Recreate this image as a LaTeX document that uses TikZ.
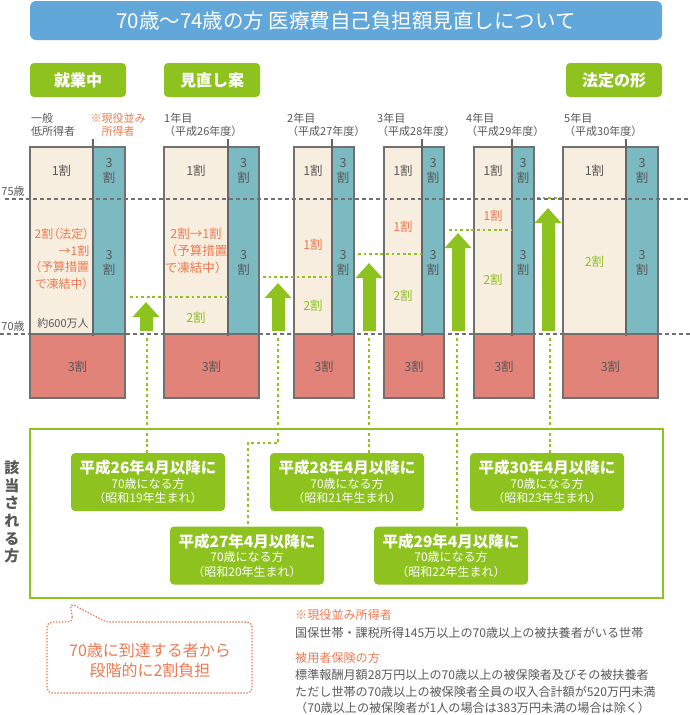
\documentclass[tikz,border=0pt]{standalone}
\usepackage{fontspec}
\setmainfont{Noto Sans CJK JP}
\usetikzlibrary{arrows.meta}

\definecolor{barblue}{HTML}{62A7D9}
\definecolor{leafgreen}{HTML}{8DC21F}
\definecolor{beige}{HTML}{F7EEDF}
\definecolor{colteal}{HTML}{7BBAC0}
\definecolor{salmon}{HTML}{E2837A}
\definecolor{edgegray}{HTML}{707070}
\definecolor{textgray}{HTML}{595757}
\definecolor{orangetxt}{HTML}{EC7A52}

\tikzset{
  titlebar/.style={fill=barblue, rounded corners=6pt, text=white, minimum width=632pt,
    minimum height=39pt, font=\fontsize{20.5}{24}\selectfont},
  tag/.style={fill=leafgreen, rounded corners=4pt, text=white, minimum width=96pt,
    minimum height=34pt, font=\fontsize{16}{18}\selectfont\bfseries},
  head/.style={anchor=west, align=left, text=textgray, font=\fontsize{11}{13}\selectfont},
  cell/.style={draw=edgegray, line width=1.2pt},
  divider/.style={draw=edgegray!90!black, line width=2pt},
  rate/.style={text=textgray, font=\fontsize{12.5}{15}\selectfont},
  small/.style={text=textgray, font=\fontsize{11}{13}\selectfont},
  ageline/.style={draw=edgegray, line width=1.8pt, dash pattern=on 4pt off 3pt},
  link/.style={draw=leafgreen, line width=2.8pt, dash pattern=on 2.8pt off 2.8pt},
  up/.style={draw=leafgreen, line width=13pt, -{Triangle[width=26pt,length=15pt]}},
  agebox/.style={fill=leafgreen, rounded corners=4pt, text=white, minimum width=154pt,
    minimum height=58pt, align=center, font=\fontsize{12}{14.5}\selectfont},
  bubble/.style={draw=orangetxt, fill=white, line width=1.2pt, dash pattern=on 1.5pt off 1.5pt,
    rounded corners=5pt},
  note/.style={anchor=west, align=left, text=textgray, font=\fontsize{12.1}{16.5}\selectfont},
}

\begin{document}
\begin{tikzpicture}[x=1pt, y=-1pt, every node/.style={inner sep=0pt}]
\useasboundingbox (0,0) rectangle (690,715);

% title and stage tags
\node[titlebar] (title) at (346,20.5) {70歳～74歳の方 医療費自己負担額見直しについて};
\node[tag] (now) at (78,80) {就業中};
\node[tag] (plan) at (212,80) {見直し案};
\node[tag] (law) at (614,80) {法定の形};

% column heads
\node[head] (h0) at (31,124.5) {一般\\低所得者};
\node[head, anchor=center, align=center, text=orangetxt] (h0b) at (118,124.5) {※現役並み\\所得者};
\node[head] (h1) at (164,124.5) {1年目\\（平成26年度）};
\node[head] (h2) at (287,124.5) {2年目\\（平成27年度）};
\node[head] (h3) at (377,124.5) {3年目\\（平成28年度）};
\node[head] (h4) at (466,124.5) {4年目\\（平成29年度）};
\node[head] (h5) at (564,124.5) {5年目\\（平成30年度）};

% columns: beige / teal / red
\foreach \a/\b/\c [count=\i] in {30/93/125, 164/228/259, 294/332/354,
                                 384/422/444, 474/512/534, 563/626/658}{
  \draw[cell, fill=beige] (\a,147) rectangle (\b,334);
  \draw[cell, fill=colteal] (\b,147) rectangle (\c,334);
  \draw[cell, fill=salmon] (\a,334) rectangle (\c,398);
  \draw[divider] (\b,139) -- (\b,336);
  \node[rate] (one\i) at ({(\a+\b)/2},171) {1割};
  \node[rate, align=center] (tA\i) at ({(\b+\c)/2},170.5) {3\\割};
  \node[rate, align=center] (tB\i) at ({(\b+\c)/2},262.5) {3\\割};
  \node[rate] (red\i) at ({(\a+\c)/2},367) {3割};
}

% shares inside the beige part
\node[rate, align=center, text=orangetxt, font=\fontsize{12}{16.7}\selectfont\addfontfeature{RawFeature=+palt}] (frozen1) at (62,259)
  {2割（法定）\\\hspace*{2em}→1割\\（予算措置\\で凍結中）};
\node[small] (pop) at (63,323) {約600万人};
\node[rate, align=center, text=orangetxt, font=\fontsize{12.5}{17}\selectfont] (frozen2) at (196,251)
  {2割→1割\\（予算措置\\で凍結中）};
\node[rate, text=leafgreen] (two2) at (196,318) {2割};
\node[rate, text=orangetxt] (half3) at (313,245) {1割};
\node[rate, text=leafgreen] (two3) at (313,306) {2割};
\node[rate, text=orangetxt] (half4) at (403,227) {1割};
\node[rate, text=leafgreen] (two4) at (403,296) {2割};
\node[rate, text=orangetxt] (half5) at (493,216) {1割};
\node[rate, text=leafgreen] (two5) at (493,280) {2割};
\node[rate, text=leafgreen] (two6) at (594.5,262) {2割};

% levels reached each year
\draw[link] (130,297) -- (228,297);
\draw[link] (263,277) -- (332,277);
\draw[link] (358,254) -- (422,254);
\draw[link] (449,230) -- (512,230);
\draw[link] (537,198) -- (563,198);
\draw[up] (146,331) -- (146,302);
\draw[up] (278,331) -- (278,283);
\draw[up] (369,331) -- (369,263);
\draw[up] (458,331) -- (458,233);
\draw[up] (548,331) -- (548,208);

% age lines
\draw[ageline] (5,199) -- (690,199);
\draw[ageline] (0,334) -- (690,334);
\node[small] (a75) at (13,191.5) {75歳};
\node[small] (a70) at (13,326) {70歳};

% who is concerned
\draw[draw=leafgreen, line width=1.2pt] (30,429) rectangle (663,598);
\node[align=center, text=textgray, font=\fontsize{15}{17.7}\selectfont\bfseries] (who) at (12,512)
  {該\\当\\さ\\れ\\る\\方};

\node[agebox] (age1) at (148,482) {{\fontsize{15.5}{17}\selectfont\bfseries 平成26年4月以降に}\\70歳になる方\\（昭和19年生まれ）};
\node[agebox] (age2) at (247,555.5) {{\fontsize{15.5}{17}\selectfont\bfseries 平成27年4月以降に}\\70歳になる方\\（昭和20年生まれ）};
\node[agebox] (age3) at (347,482) {{\fontsize{15.5}{17}\selectfont\bfseries 平成28年4月以降に}\\70歳になる方\\（昭和21年生まれ）};
\node[agebox] (age4) at (451,555.5) {{\fontsize{15.5}{17}\selectfont\bfseries 平成29年4月以降に}\\70歳になる方\\（昭和22年生まれ）};
\node[agebox] (age5) at (547,482) {{\fontsize{15.5}{17}\selectfont\bfseries 平成30年4月以降に}\\70歳になる方\\（昭和23年生まれ）};

\coordinate (src1) at (147,338);
\coordinate (src2) at (278,338);
\coordinate (src3) at (369,338);
\coordinate (src4) at (457,338);
\coordinate (src5) at (550,338);
\coordinate (bend2) at (248,443);
\draw[link] (src1) -- (src1 |- age1.north);
\draw[link] (src2) |- (bend2) -- (bend2 |- age2.north);
\draw[link] (src3) -- (src3 |- age3.north);
\draw[link] (src4) -- (src4 |- age4.north);
\draw[link] (src5) -- (src5 |- age5.north);

% callout
\draw[bubble] (73,622) -- (70,603) -- (106,622) -- (252,622) -- (252,693) -- (47,693) -- (47,622) -- cycle;
\node[align=center, text=orangetxt, font=\fontsize{16}{20}\selectfont] (goal) at (150,660)
  {70歳に到達する者から\\段階的に2割負担};

% notes
\node[note, text=orangetxt] (n1) at (295,615) {※現役並み所得者};
\node[note] (n1t) at (295,633) {国保世帯・課税所得145万以上の70歳以上の被扶養者がいる世帯};
\node[note, text=orangetxt] (n2) at (295,658) {被用者保険の方};
\node[note] (n2t) at (295,691.5) {標準報酬月額28万円以上の70歳以上の被保険者及びその被扶養者\\
  ただし世帯の70歳以上の被保険者全員の収入合計額が520万円未満\\
  （70歳以上の被保険者が1人の場合は383万円未満の場合は除く）};
\end{tikzpicture}
\end{document}
